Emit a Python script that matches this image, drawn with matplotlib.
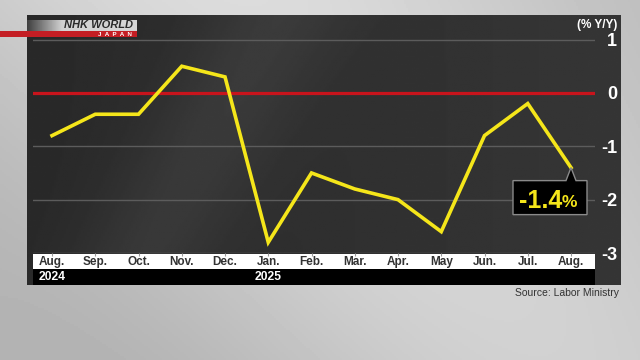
import numpy as np
import matplotlib
matplotlib.use('Agg')
import matplotlib.pyplot as plt
from matplotlib.patches import Rectangle, Polygon
from matplotlib import transforms

plt.rcParams['font.family'] = ['Liberation Sans', 'DejaVu Sans']

# monthly wages, % change year on year
months = ['Aug.', 'Sep.', 'Oct.', 'Nov.', 'Dec.', 'Jan.', 'Feb.', 'Mar.', 'Apr.', 'May', 'Jun.', 'Jul.', 'Aug.']
values = [-0.8, -0.4, -0.4, 0.5, 0.3, -2.8, -1.5, -1.8, -2.0, -2.6, -0.8, -0.2, -1.4]
years = {0: '2024', 5: '2025'}
yticks = [1, 0, -1, -2, -3]

fig = plt.figure(figsize=(6.4, 3.6), dpi=100)

# background layer in pixel coords
bg = fig.add_axes([0, 0, 1, 1])
bg.set_xlim(0, 640)
bg.set_ylim(360, 0)
bg.axis('off')

gx = np.linspace(0, 1, 320)
gy = np.linspace(0, 1, 180)
GX, GY = np.meshgrid(gx, gy)
light = 0.80 + 0.06 * np.sin(np.pi * (GX * 1.3 - GY * 0.6)) - 0.04 * GY
bg.imshow(light, cmap='gray', vmin=0, vmax=1, extent=(0, 640, 360, 0), aspect='auto', zorder=0)

px = np.linspace(0, 1, 300)
PX, PY = np.meshgrid(px, np.linspace(0, 1, 140))
band = np.exp(-((PX - 0.42 + 0.25 * PY) / 0.12) ** 2)
dark = 0.16 + 0.05 * PX + 0.05 * band
bg.imshow(dark, cmap='gray', vmin=0, vmax=1, extent=(27, 621, 285, 15), aspect='auto', zorder=1)

# label strips
bg.add_patch(Rectangle((33, 254), 562, 15, fc='white', ec='none', zorder=2))
bg.add_patch(Rectangle((33, 269), 562, 16, fc='black', ec='none', zorder=2))

# logo
lx = np.linspace(27, 137, 110)
logo = np.interp(lx, [27, 62, 137], [0.25, 0.82, 0.84])[None, :]
bg.imshow(logo, cmap='gray', vmin=0, vmax=1, extent=(27, 137, 31, 20), aspect='auto', zorder=3)
bg.add_patch(Rectangle((0, 31), 137, 6, fc='#c41e24', ec='none', zorder=3))
bg.text(99, 25.5, 'NHK WORLD', color='#2a2a2a', fontsize=8, fontweight='bold', style='italic',
        ha='center', va='center', zorder=4)
bg.text(115, 34.2, 'J  A  P  A  N', color='white', fontsize=4.5, fontweight='bold',
        ha='center', va='center', zorder=4)

bg.text(597, 25, '(% Y/Y)', color='white', fontsize=8.5, fontweight='bold', ha='center', va='center', zorder=4)
bg.text(619, 293, 'Source: Labor Ministry', color='#333333', fontsize=7.5, ha='right', va='center', zorder=4)

# chart
ax = fig.add_axes([33 / 640, (360 - 253) / 360, 562 / 640, 238 / 360])
ax.patch.set_alpha(0)
for s in ax.spines.values():
    s.set_visible(False)
x = np.arange(len(values))
ax.set_xlim(-0.44, 12.555)
ax.set_ylim(-3, 1.46)

ax.set_yticks(yticks)
ax.set_yticklabels([str(t) for t in yticks])
ax.yaxis.tick_right()
ax.tick_params(axis='y', length=0, pad=16, labelsize=13, labelcolor='white')
for lbl in ax.get_yticklabels():
    lbl.set_ha('right')
    lbl.set_fontweight('bold')
ax.grid(axis='y', color='#5c5c5c', lw=1)
ax.axhline(0, color='#c8141c', lw=2.3, zorder=2)

ax.set_xticks(x)
ax.set_xticklabels(months)
ax.tick_params(axis='x', length=2.2, color='#999999', pad=0.3, labelsize=8.5, labelcolor='#333333')
for lbl in ax.get_xticklabels():
    lbl.set_fontweight('bold')

for i, yr in years.items():
    ax.text(i, -0.10, yr, transform=ax.get_xaxis_transform(), color='white', fontsize=8.7,
            fontweight='bold', ha='center', va='center')

ax.plot(x, values, color='#f5e61a', lw=2.6, solid_joinstyle='miter', zorder=3)

# callout on the last point
last = len(values) - 1
tr = fig.dpi_scale_trans + transforms.ScaledTranslation(x[last], values[last], ax.transData)
shape = np.array([(-58, -13), (-5, -13), (0, 0), (5, -13), (16, -13), (16, -47), (-58, -47)]) / 100
ax.add_patch(Polygon(shape, closed=True, fc='black', ec='#8a8a8a', lw=1, transform=tr, zorder=4,
                     clip_on=False))
ax.text(-0.09, -0.335, f'{values[last]:.1f}', transform=tr, color='#f5e61a', fontsize=18,
        fontweight='bold', ha='right', va='center', zorder=5)
ax.text(-0.09, -0.345, '%', transform=tr, color='#f5e61a', fontsize=12.5,
        fontweight='bold', ha='left', va='center', zorder=5)

fig.savefig('out.png', dpi=100)
